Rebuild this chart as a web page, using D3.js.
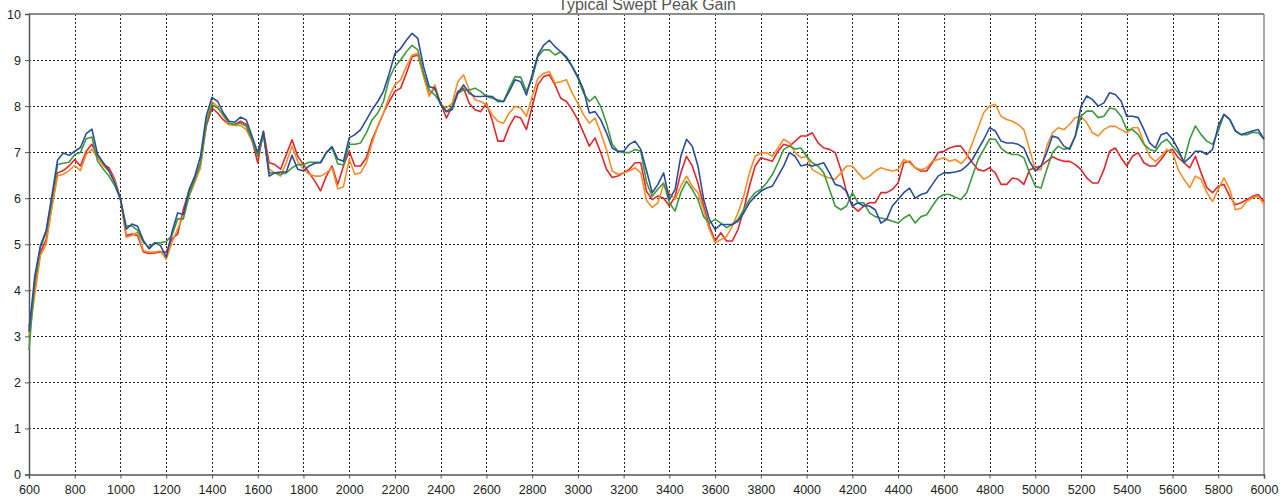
<!DOCTYPE html>
<meta charset="utf-8">
<script src="https://d3js.org/d3.v7.min.js"></script>
<style>
  body { margin: 0; background: #fff; }
  svg text { font-family: "Liberation Sans", Arial, sans-serif; }
</style>
<svg id="chart" width="1284" height="499"></svg>
<script>
// frequency steps (Hz) and gain readings for the four units
const freqs = d3.range(600, 6001, 25);

const blue = [3.1,4.3,4.97,5.3,6.05,6.83,6.98,6.93,7.02,7.1,7.4,7.5,6.95,6.77,6.59,6.34,5.98,5.33,5.44,5.39,5.08,4.9,5.03,4.97,4.72,5.26,5.68,5.65,6.19,6.48,6.91,7.78,8.19,8.1,7.85,7.67,7.65,7.76,7.7,7.35,6.99,7.45,6.48,6.55,6.57,6.57,6.93,6.63,6.59,6.7,6.76,6.77,6.99,7.12,6.85,6.8,
  7.31,7.38,7.49,7.7,7.92,8.1,8.32,8.71,9.14,9.25,9.43,9.58,9.47,8.86,8.42,8.39,8.03,7.88,7.92,8.28,8.46,8.28,8.21,8.21,8.22,8.21,8.1,8.1,8.32,8.57,8.53,8.24,8.68,9.11,9.32,9.43,9.29,9.18,9.07,8.86,
  8.64,8.35,7.85,7.88,7.7,7.42,7.09,7.02,7.02,7.17,7.24,7.06,6.6,6.12,6.3,6.55,5.97,6.19,6.91,7.28,7.13,6.7,5.97,5.54,5.32,5.43,5.43,5.43,5.5,5.68,5.9,6.04,6.15,6.22,6.26,6.48,6.7,6.99,6.91,6.7,
  6.73,6.7,6.73,6.77,6.55,6.3,6.26,6.15,5.83,5.9,5.83,5.83,5.75,5.46,5.54,5.83,5.97,6.12,6.22,6.0,6.08,6.12,6.3,6.48,6.55,6.55,6.57,6.6,6.7,6.84,7.06,7.28,7.53,7.46,7.24,7.2,7.2,7.17,7.09,6.8,
  6.59,6.7,6.99,7.35,7.31,7.13,7.06,7.35,8.0,8.22,8.14,8.0,8.07,8.29,8.25,8.11,7.78,7.78,7.75,7.49,7.2,7.09,7.38,7.42,7.28,7.06,6.77,6.88,7.02,7.02,6.95,7.06,7.57,7.82,7.71,7.46,7.38,7.42,7.46,7.49,7.28];

const green = [2.7,4.2,4.94,5.25,5.98,6.73,6.76,6.78,6.95,6.99,7.29,7.33,6.8,6.63,6.48,6.27,5.98,5.4,5.4,5.3,5.04,4.94,5.03,5.03,5.06,5.19,5.55,5.55,6.05,6.41,6.77,7.6,8.03,7.96,7.81,7.63,7.6,7.63,7.56,7.27,6.91,7.38,6.55,6.55,6.52,6.55,6.66,6.73,6.73,6.78,6.78,6.78,6.99,7.1,6.75,6.72,
  7.17,7.17,7.2,7.42,7.7,7.85,8.1,8.6,8.86,9.0,9.18,9.32,9.22,8.71,8.35,8.24,8.06,7.88,7.99,8.28,8.35,8.35,8.39,8.32,8.21,8.17,8.14,8.1,8.39,8.64,8.63,8.32,8.6,9.07,9.22,9.22,9.11,9.18,9.04,8.86,
  8.6,8.28,8.1,8.21,7.99,7.63,7.17,7.02,6.99,6.99,7.06,7.02,6.35,6.04,6.2,6.33,5.9,5.72,6.12,6.37,6.19,5.97,5.6,5.46,5.54,5.46,5.36,5.43,5.54,5.75,5.97,6.12,6.19,6.33,6.51,6.77,7.06,7.13,7.07,7.09,
  6.91,6.77,6.7,6.55,6.19,5.83,5.75,5.83,6.12,5.9,5.9,5.68,5.6,5.57,5.54,5.5,5.46,5.57,5.64,5.46,5.6,5.64,5.83,6.01,6.08,6.08,6.02,5.97,6.12,6.48,6.84,7.06,7.28,7.28,7.09,6.99,6.95,6.95,6.88,6.55,
  6.26,6.22,6.62,6.99,7.13,7.06,7.09,7.35,7.78,7.89,7.89,7.75,7.78,7.96,7.93,7.78,7.49,7.49,7.38,7.17,7.06,7.02,7.2,7.28,7.13,6.99,6.8,7.28,7.57,7.38,7.24,7.17,7.46,7.82,7.71,7.46,7.38,7.38,7.43,7.42,7.28];

const red = [3.2,4.0,4.83,5.1,5.83,6.55,6.6,6.7,6.84,6.7,7.02,7.17,6.92,6.73,6.66,6.41,5.98,5.19,5.22,5.19,4.83,4.8,4.81,4.83,4.83,5.12,5.22,5.76,6.16,6.41,6.73,7.56,7.96,7.85,7.7,7.6,7.6,7.67,7.6,7.27,6.77,7.45,6.77,6.73,6.63,6.95,7.27,6.91,6.73,6.55,6.37,6.16,6.48,6.7,6.3,6.7,
  7.02,6.7,6.7,6.88,7.27,7.56,7.85,8.1,8.32,8.39,8.71,9.07,9.11,8.68,8.24,8.39,8.06,7.74,7.99,8.32,8.39,8.06,7.92,7.88,8.06,7.7,7.24,7.24,7.56,7.78,7.74,7.49,7.99,8.46,8.64,8.68,8.46,8.17,8.1,7.92,
  7.7,7.42,7.13,7.31,6.99,6.63,6.45,6.48,6.55,6.63,6.77,6.77,6.15,5.97,6.05,6.0,5.83,6.04,6.55,6.91,6.7,6.33,5.83,5.39,5.07,5.25,5.07,5.07,5.32,5.75,6.26,6.7,6.88,6.84,6.8,7.02,7.17,7.13,7.24,7.35,
  7.35,7.42,7.2,7.09,7.06,6.99,6.62,6.12,5.83,5.72,5.83,5.9,5.9,6.12,6.12,6.19,6.33,6.77,6.8,6.66,6.59,6.59,6.77,6.99,7.02,7.09,7.13,7.13,6.95,6.77,6.62,6.59,6.66,6.55,6.3,6.3,6.44,6.41,6.3,6.62,
  6.66,6.7,6.8,6.9,6.84,6.8,6.8,6.73,6.62,6.44,6.33,6.33,6.62,7.02,7.09,6.88,6.7,6.91,6.99,6.77,6.7,6.7,6.84,7.02,7.06,6.88,6.77,6.66,6.91,6.55,6.23,6.12,6.26,6.3,6.04,5.86,5.9,5.97,6.04,6.08,5.93];

const orange = [3.0,3.9,4.76,5.0,5.8,6.48,6.52,6.6,6.71,6.6,6.95,7.06,6.88,6.7,6.59,6.38,5.98,5.15,5.19,5.26,4.86,4.83,4.83,4.85,4.67,5.04,5.33,5.62,6.05,6.34,6.66,7.67,8.1,7.99,7.78,7.6,7.58,7.58,7.49,7.24,6.95,7.38,6.63,6.55,6.48,6.77,7.13,6.8,6.63,6.52,6.48,6.48,6.55,6.66,6.2,6.25,
  6.84,6.52,6.55,6.77,7.2,7.56,7.85,8.21,8.46,8.57,8.86,9.11,9.14,8.64,8.21,8.46,8.03,7.96,8.06,8.53,8.68,8.35,8.14,8.1,8.03,7.81,7.67,7.63,7.85,7.99,7.96,7.78,8.21,8.6,8.71,8.75,8.5,8.53,8.57,8.28,
  8.06,7.81,7.63,7.74,7.42,7.06,6.59,6.52,6.55,6.59,6.66,6.55,5.95,5.8,5.9,6.3,6.12,5.97,6.26,6.48,6.26,6.12,5.75,5.32,5.03,5.1,5.17,5.39,5.68,6.04,6.55,6.91,6.98,6.99,6.91,7.09,7.28,7.2,6.99,6.88,
  6.91,6.62,6.55,6.48,6.44,6.41,6.55,6.7,6.7,6.55,6.41,6.48,6.59,6.66,6.62,6.59,6.62,6.84,6.77,6.66,6.62,6.66,6.8,6.84,6.88,6.8,6.84,6.75,6.88,7.2,7.53,7.86,8.0,8.04,7.78,7.71,7.67,7.6,7.49,7.06,
  6.62,6.62,7.13,7.42,7.53,7.49,7.6,7.75,7.78,7.64,7.42,7.35,7.49,7.56,7.56,7.49,7.42,7.53,7.53,7.2,6.91,6.8,6.91,7.06,6.99,6.62,6.41,6.23,6.48,6.41,6.12,5.93,6.19,6.44,6.19,5.75,5.78,5.93,6.01,6.04,5.86];

const xTicks = d3.range(600, 6001, 200);
const yTicks = d3.range(0, 11, 1);
const title = "Typical Swept Peak Gain";

const svg = d3.select("#chart");
const margin = {left: 29, right: 20, top: 14, bottom: 24};
const width = 1284 - margin.left - margin.right;
const height = 499 - margin.top - margin.bottom - 0.5;

const x = d3.scaleLinear().domain([600, 6000]).range([0, width]);
const y = d3.scaleLinear().domain([0, 10]).range([height, 0]);

const g = svg.append("g").attr("transform", `translate(${margin.left},${margin.top})`);

// dotted grid
g.append("g")
  .selectAll("line.vg")
  .data(xTicks.slice(1, -1))
  .join("line")
    .attr("x1", d => Math.round(x(d)) + 0.5).attr("x2", d => Math.round(x(d)) + 0.5)
    .attr("y1", 0).attr("y2", height)
    .attr("stroke", "#222").attr("stroke-dasharray", "2,2");
g.append("g")
  .selectAll("line.hg")
  .data(yTicks.slice(1, -1))
  .join("line")
    .attr("y1", d => Math.round(y(d)) + 0.5).attr("y2", d => Math.round(y(d)) + 0.5)
    .attr("x1", 0).attr("x2", width)
    .attr("stroke", "#222").attr("stroke-dasharray", "2,2");

// frame
g.append("line").attr("x1", 0).attr("x2", width).attr("y1", 0).attr("y2", 0)
  .attr("stroke", "#8c8c8c").attr("stroke-width", 2);
g.append("line").attr("x1", width).attr("x2", width).attr("y1", 0).attr("y2", height)
  .attr("stroke", "#8c8c8c").attr("stroke-width", 1.5);

// axes
const yAxis = g.append("g").call(d3.axisLeft(y).tickValues(yTicks).tickSize(4).tickPadding(4));
const xAxis = g.append("g").attr("transform", `translate(0,${height})`)
  .call(d3.axisBottom(x).tickValues(xTicks).tickSize(4).tickPadding(7).tickFormat(d3.format("d")));
[yAxis, xAxis].forEach(a => {
  a.select(".domain").attr("stroke", "#555").attr("stroke-width", 1.5);
  a.selectAll(".tick line").attr("stroke", "#555");
  a.selectAll("text").attr("fill", "#222").style("font-size", "12.5px")
    .style("font-family", "'Liberation Sans', Arial, sans-serif");
});

// series lines
const series = [
  {name: "red", values: red, color: "#e3262b"},
  {name: "orange", values: orange, color: "#f48d24"},
  {name: "green", values: green, color: "#3d9a3d"},
  {name: "blue", values: blue, color: "#2b4d9b"}
];
const line = d3.line().x((d, i) => x(freqs[i])).y(d => y(d));
g.append("g")
  .selectAll("path")
  .data(series)
  .join("path")
    .attr("d", d => line(d.values))
    .attr("fill", "none")
    .attr("stroke", d => d.color)
    .attr("stroke-width", 1.6)
    .attr("stroke-linejoin", "round");

// title (clipped at the top edge, as in the original)
svg.append("text")
  .attr("x", 647).attr("y", 10)
  .attr("text-anchor", "middle")
  .attr("fill", "#555")
  .style("font-size", "16px")
  .text(title);
</script>
